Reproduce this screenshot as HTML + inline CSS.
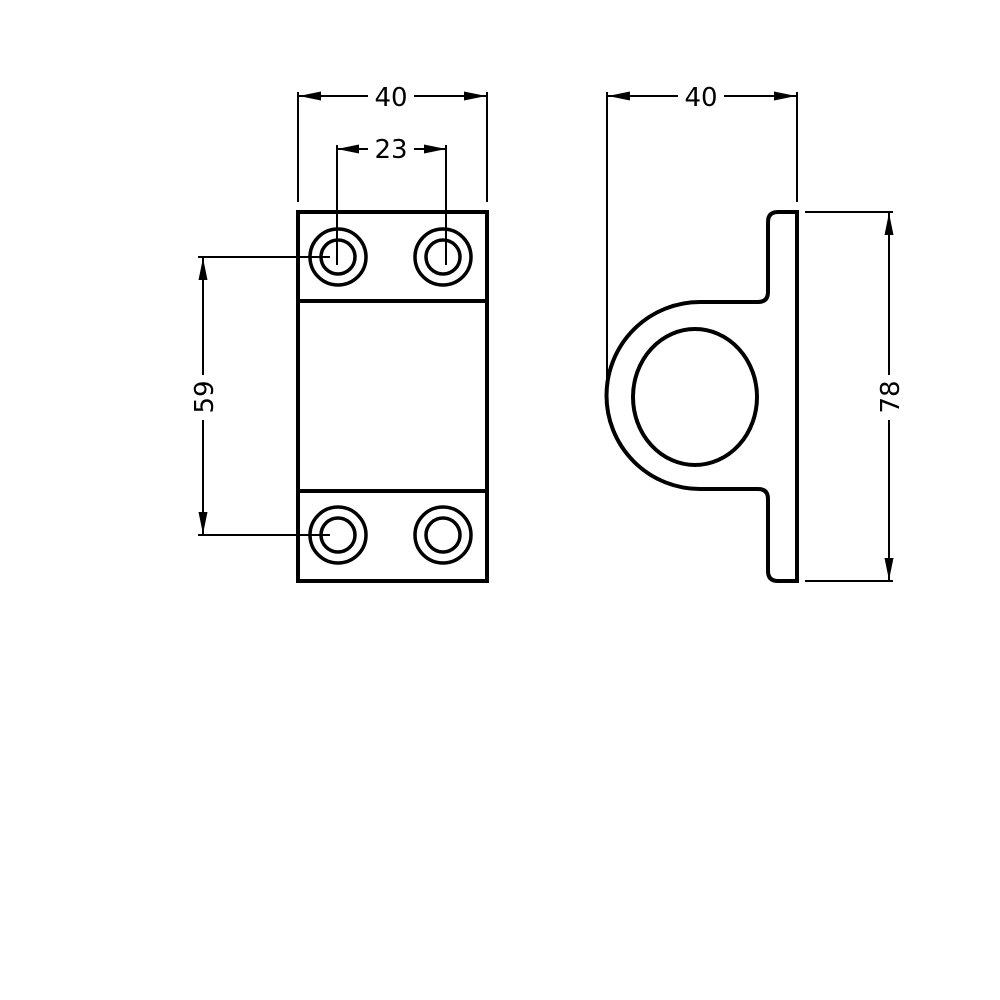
<!DOCTYPE html>
<html><head><style>body{margin:0;background:#fff}svg{display:block}</style></head><body>
<svg width="1000" height="1000" viewBox="0 0 1000 1000" xmlns="http://www.w3.org/2000/svg">
<defs>
<marker id="a" viewBox="0 0 22 9" refX="22" refY="4.5" markerWidth="22" markerHeight="9" markerUnits="userSpaceOnUse" orient="auto-start-reverse"><path d="M0,0 L22,4.5 L0,9 z" fill="#000"/></marker>
</defs>
<g fill="none" stroke="#000">
<rect x="298" y="212" width="189" height="369" stroke-width="4"/>
<line x1="298" y1="301" x2="487" y2="301" stroke-width="4"/>
<line x1="298" y1="491" x2="487" y2="491" stroke-width="4"/>
<g stroke-width="3.5">
<circle cx="338" cy="257" r="28"/><circle cx="338" cy="257" r="17"/>
<circle cx="443" cy="257" r="28"/><circle cx="443" cy="257" r="17"/>
<circle cx="338" cy="535" r="28"/><circle cx="338" cy="535" r="17"/>
<circle cx="443" cy="535" r="28"/><circle cx="443" cy="535" r="17"/>
</g>
<g stroke-width="2">
<line x1="298" y1="92" x2="298" y2="202"/>
<line x1="487" y1="92" x2="487" y2="202"/>
<line x1="299" y1="96" x2="368" y2="96" marker-start="url(#a)"/>
<line x1="414" y1="96" x2="486" y2="96" marker-end="url(#a)"/>
<line x1="337" y1="145" x2="337" y2="265"/>
<line x1="446" y1="145" x2="446" y2="265"/>
<line x1="337" y1="149" x2="368" y2="149" marker-start="url(#a)"/>
<line x1="414" y1="149" x2="446" y2="149" marker-end="url(#a)"/>
<line x1="198" y1="257" x2="330" y2="257"/>
<line x1="198" y1="535" x2="330" y2="535"/>
<line x1="203" y1="258" x2="203" y2="375" marker-start="url(#a)"/>
<line x1="203" y1="420" x2="203" y2="534" marker-end="url(#a)"/>
</g>
<path d="M797,212 L778,212 Q768,212 768,222 L768,292 Q768,302 758,302 L700,302 A93,93 0 0 0 700,489 L758,489 Q768,489 768,499 L768,571 Q768,581 778,581 L797,581 Z" stroke-width="4"/>
<ellipse cx="695" cy="397" rx="62" ry="68" stroke-width="4"/>
<g stroke-width="2">
<line x1="607" y1="92" x2="607" y2="395"/>
<line x1="797" y1="92" x2="797" y2="202"/>
<line x1="608" y1="96" x2="678" y2="96" marker-start="url(#a)"/>
<line x1="724" y1="96" x2="796" y2="96" marker-end="url(#a)"/>
<line x1="805" y1="212" x2="893" y2="212"/>
<line x1="805" y1="581" x2="893" y2="581"/>
<line x1="889" y1="213" x2="889" y2="375" marker-start="url(#a)"/>
<line x1="889" y1="420" x2="889" y2="580" marker-end="url(#a)"/>
</g>
</g>
<g font-family="'DejaVu Sans','Liberation Sans',sans-serif" font-size="26" fill="#000" text-anchor="middle">
<text x="391" y="106">40</text>
<text x="391" y="158">23</text>
<text x="701" y="106">40</text>
<text transform="translate(213,397) rotate(-90)">59</text>
<text transform="translate(899,397) rotate(-90)">78</text>
</g>
</svg>
</body></html>
